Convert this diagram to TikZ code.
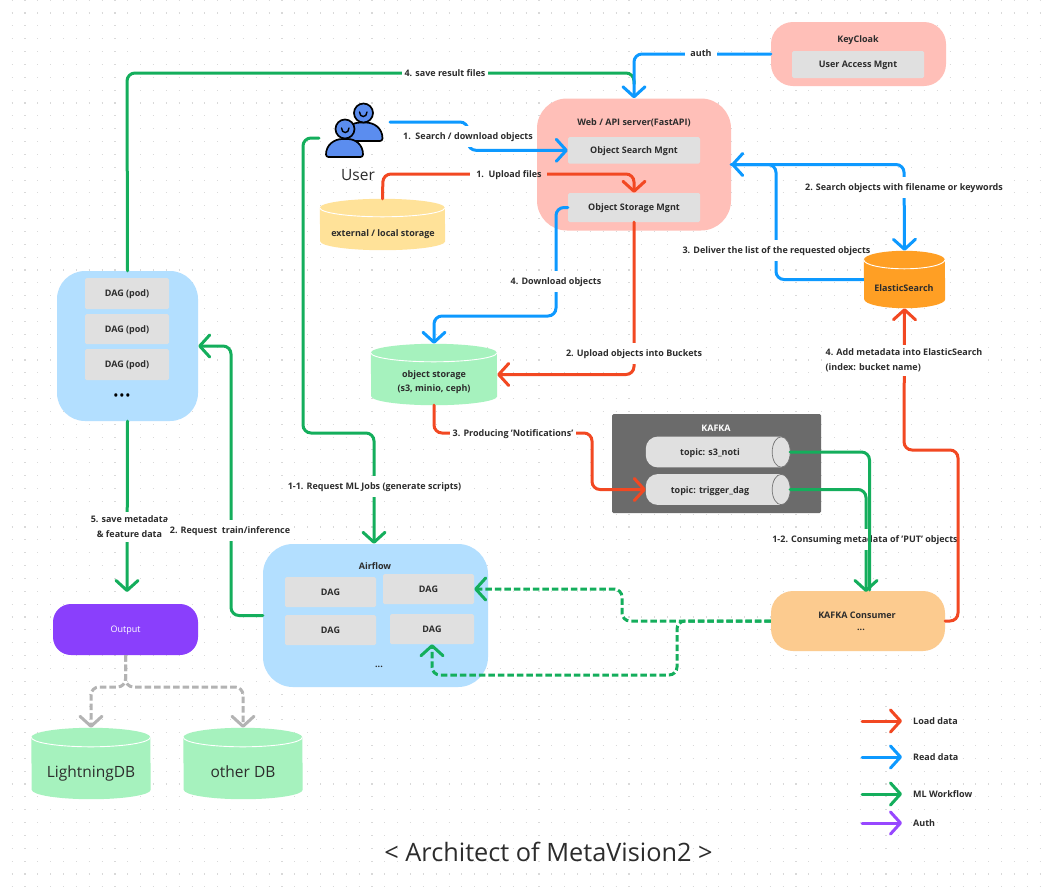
\documentclass[tikz,border=0pt]{standalone}
\usepackage{fontspec}
\setmainfont{Open Sans}
\usetikzlibrary{arrows.meta}
\definecolor{cred}{HTML}{F24822}
\definecolor{cblue}{HTML}{0D99FF}
\definecolor{cgreen}{HTML}{14AE5C}
\definecolor{cpurple}{HTML}{9747FF}
\definecolor{cgray}{HTML}{B3B3B3}
\definecolor{fpink}{HTML}{FFBFB8}
\definecolor{fsky}{HTML}{B3DFFF}
\definecolor{fmint}{HTML}{A6F2BE}
\definecolor{fyellow}{HTML}{FFE299}
\definecolor{forange}{HTML}{FCCB8F}
\definecolor{fes}{HTML}{FF9F24}
\definecolor{fbox}{HTML}{E0E0E0}
\definecolor{fdark}{HTML}{6B6B6B}
\definecolor{foutput}{HTML}{8A3FFC}
\definecolor{tdark}{HTML}{2C2C2C}
\definecolor{fperson}{HTML}{5B8DEF}
\definecolor{griddot}{HTML}{D9D9D9}
\tikzset{
  flow/.style={line width=3pt,rounded corners=8pt,line cap=round,draw=#1,-{Straight Barb[length=10pt,width=22pt,round]}},
  plainflow/.style={line width=3pt,rounded corners=8pt,line cap=round,draw=#1},
  dashflow/.style={line width=3pt,rounded corners=8pt,line cap=butt,dash pattern=on 6.5pt off 3pt,draw=#1,-{Straight Barb[length=10pt,width=22pt,round]}},
  txt/.style={font=\fontsize{9}{13}\selectfont\bfseries,text=tdark,inner sep=0pt,text height=6.4pt,text depth=0pt},
  lbl/.style={txt,fill=white,inner xsep=3pt,inner ysep=7.3pt},
  mlbl/.style={font=\fontsize{9}{15}\selectfont\bfseries,text=tdark,fill=white,inner xsep=3pt,inner ysep=4pt},
  inbox/.style={fill=fbox,rounded corners=1.5pt,inner sep=0pt,font=\fontsize{9}{11}\selectfont\bfseries,text=tdark,text height=6.4pt,text depth=0pt},
  panel/.style={inner sep=0pt,fill=#1},
  blank/.style={inner sep=0pt},
  big/.style={font=\fontsize{15.5}{19}\selectfont,text=tdark,inner sep=0pt,text height=11pt,text depth=0pt},
  headdraw/.style={draw=black,line width=1.7pt,fill=fperson},
  smile/.style={draw=black,line width=1.4pt,line cap=round},
}
% shape of a cylinder around an existing node: name, width, ry, colour
\newcommand{\cylbody}[4]{%
  \pgfmathsetmacro{\rxv}{#2/2}
  \fill[#4] ([yshift=-#3pt]#1.north west) arc[start angle=180,end angle=0,x radius=\rxv pt,y radius=#3pt]
     -- ([yshift=#3pt]#1.south east) arc[start angle=0,end angle=-180,x radius=\rxv pt,y radius=#3pt] -- cycle;
  \draw[white,line width=0.9pt] ([yshift=-#3pt]#1.north west) arc[start angle=180,end angle=360,x radius=\rxv pt,y radius=#3pt];
}
% name, cx, cy, width, height, ry, colour
\newcommand{\cyldb}[7]{%
  \node[blank,minimum width=#4pt,minimum height=#5pt] (#1) at (#2,#3) {};
  \cylbody{#1}{#4}{#6}{#7}
}
% name, cx, cy
\newcommand{\topicshape}[3]{%
  \node[blank,minimum width=144pt,minimum height=30.5pt] (#1) at (#2,#3) {};
  \fill[fbox,rounded corners=12pt] ([xshift=-9pt]#1.north east) -- (#1.north west) -- (#1.south west) [sharp corners] -- ([xshift=-9pt]#1.south east);
  \draw[fill=fbox,draw=black!55,line width=0.7pt] ([xshift=-9pt]#1.east) ellipse[x radius=9pt,y radius=15.2pt];
}
\begin{document}
\begin{tikzpicture}[x=1pt,y=-1pt]
\useasboundingbox (0,0) rectangle (1046,887);
\fill[white] (0,0) rectangle (1046,887);
% dot grid
\foreach \i in {0,...,69}{
  \pgfmathsetmacro{\yy}{0.15+12.85*\i}
  \draw[griddot,line width=1.1pt,dash pattern=on 1.1pt off 11.75pt] (11.6,\yy) -- (1046,\yy);
}
% ---- panels
\node[panel=fpink,rounded corners=22pt,minimum width=175pt,minimum height=64pt] (keycloak) at (858.5,54) {};
\node[txt] (keycloak-t) at (858,39) {KeyCloak};
\node[inbox,minimum width=132pt,minimum height=27pt] (uam) at (858,64.5) {User Access Mgnt};

\node[panel=fpink,rounded corners=30pt,minimum width=194pt,minimum height=132pt] (web) at (634,164.5) {};
\node[txt] (web-t) at (634,122) {Web / API server(FastAPI)};
\node[inbox,minimum width=132pt,minimum height=26.5pt] (search) at (634,150.3) {Object Search Mgnt};
\node[inbox,minimum width=132pt,minimum height=29pt] (storage) at (634,207.5) {Object Storage Mgnt};

\node[panel=fsky,rounded corners=28pt,minimum width=141pt,minimum height=150pt] (pods) at (127.5,346) {};
\node[inbox,minimum width=84pt,minimum height=31pt] (pod1) at (127,293.5) {DAG (pod)};
\node[inbox,minimum width=84pt,minimum height=30pt] (pod2) at (127,329) {DAG (pod)};
\node[inbox,minimum width=84pt,minimum height=31pt] (pod3) at (127,364.5) {DAG (pod)};
\node[inner sep=0pt,font=\fontsize{11}{13}\selectfont\bfseries,text=black] (pod-more) at (122,397) {•\,•\,•};

\node[panel=fsky,rounded corners=30pt,minimum width=225pt,minimum height=143pt] (airflow) at (375.5,615.5) {};
\node[txt] (airflow-t) at (375,566) {Airflow};
\node[inbox,minimum width=91pt,minimum height=30pt] (dagA) at (330.5,592) {DAG};
\node[inbox,minimum width=91pt,minimum height=30pt] (dagB) at (428.5,589) {DAG};
\node[inbox,minimum width=91pt,minimum height=30pt] (dagC) at (330.5,630) {DAG};
\node[inbox,minimum width=84pt,minimum height=30pt] (dagD) at (432,629) {DAG};
\node[inner sep=0pt,font=\fontsize{9}{11}\selectfont\bfseries,text=tdark] (airflow-more) at (379,667) {...};

\node[panel=foutput,rounded corners=18pt,minimum width=145pt,minimum height=51pt,text=white,font=\fontsize{9}{11}\selectfont,text height=6.4pt,text depth=0pt] (output) at (125.5,629.5) {Output};

\node[panel=forange,rounded corners=22pt,minimum width=174pt,minimum height=60pt] (consumer) at (858,621) {};
\node[txt] (consumer-t) at (857,615) {KAFKA Consumer};
\node[inner sep=0pt,font=\fontsize{9}{11}\selectfont\bfseries,text=tdark] (consumer-more) at (861,630) {...};

\node[panel=fdark,rounded corners=1.5pt,minimum width=209pt,minimum height=99pt] (kafka) at (716.5,463.5) {};
\node[txt,text=white] (kafka-t) at (716,428) {KAFKA};
\topicshape{topicA}{718}{452}
\topicshape{topicB}{718}{489.5}
\node[txt] (topicA-t) at (710,452) {topic: s3\_noti};
\node[txt] (topicB-t) at (710,490) {topic: trigger\_dag};

% ---- cylinders
\cyldb{ext}{382.5}{224.5}{125}{51}{9}{fyellow}
\node[txt] (ext-t) at (383,233) {external / local storage};
\cyldb{objst}{434}{374.5}{126}{61}{9}{fmint}
\node[inner sep=0pt,align=center,text=tdark,font=\fontsize{9}{14}\selectfont\bfseries] (objst-t) at (434,382.5) {object storage\\(s3, minio, ceph)};
\node[blank,minimum width=81pt,minimum height=57pt] (es) at (904.5,279.5) {};
\cyldb{ldb}{91}{763.5}{119}{71}{9.5}{fmint}
\node[big] (ldb-t) at (91,772) {LightningDB};
\cyldb{odb}{243}{763.5}{119}{71}{9.5}{fmint}
\node[big] (odb-t) at (243,772) {other DB};

% ---- user icon
\node[blank,minimum width=58pt,minimum height=54pt] (usericon) at (354.5,130) {};
\draw[headdraw,rounded corners=2.5pt] (344,141) .. controls (344,128) and (352,122.5) .. (363,122.5) .. controls (374,122.5) and (382.5,128) .. (382.5,141) -- cycle;
\draw[headdraw] (363.5,113) circle[radius=9.5pt];
\draw[smile] (359.5,112) .. controls (359.5,118) and (367,118) .. (367,112);
\draw[headdraw,rounded corners=2.5pt] (326,157) .. controls (326,145) and (334,139) .. (345,139) .. controls (356,139) and (363,145) .. (363,157) -- cycle;
\draw[headdraw] (345,129) circle[radius=9.5pt];
\draw[smile] (341.5,128) .. controls (341.5,134) and (349,134) .. (349,128);
\node[big] (user-t) at (358,175) {User};
\coordinate (user-out) at (390,122);
\coordinate (user-ml) at (319,138);

% ---- connectors
\draw[plainflow=cgreen] (pods.north) -- (127,73) -- (634,73) -- (634,84);
\node[lbl] (l-save) at (445,73) {4. save result files};
\draw[flow=cblue] (keycloak.west) -- (634,54) -- (web.north);
\node[lbl,inner xsep=5pt] (l-auth) at (701,53) {auth};

\draw[flow=cblue] (user-out) -- (468,122) -- (468,150.3) -- (search.west);
\node[lbl] (l-search) at (468,136) {1.\ \ Search / download objects};

\draw[flow=cred] (ext.north) -- (383,174) -- (634,174) -- (storage.north);
\fill[white] (470,165) rectangle (537,183);
\fill[fpink] (537,165) rectangle (547,183);
\node[txt] (l-upload) at (509,174) {1.\ \ Upload files};

\draw[flow=cblue] (storage.west) -- (556,207.5) -- (556,316) -- (434,316) -- (objst.north);
\node[lbl] (l-down) at (556,281) {4. Download objects};

\draw[flow=cred] (storage.south) -- (634,374.5) -- (objst.east);
\node[lbl] (l-upb) at (634,353) {2. Upload objects into Buckets};

\draw[flow=cblue] (web.east) -- (904,164.5) -- (es.north);
\node[lbl] (l-es2) at (904,187.5) {2. Search objects with filename or keywords};
\draw[flow=cblue] (es.west) -- (776,279.5) -- (776,164.5) -- (web.east);
\node[lbl] (l-es3) at (776.5,250) {3. Deliver the list of the requested objects};
\cylbody{es}{81}{9}{fes}
\node[txt] (es-t) at (904,288) {ElasticSearch};

\draw[flow=cred] (objst.south) -- (434,433) -- (592,433) -- (592,489.5) -- (topicB.west);
\node[lbl] (l-prod) at (513,433) {3. Producing 'Notifications'};

\draw[flow=cgreen] (user-ml) -- (303,138) -- (303,433) -- (374,433) -- (374,0 |- airflow.north);
\node[lbl] (l-ml) at (374.5,486) {1-1. Request ML Jobs (generate scripts)};

\draw[flow=cgreen] (pods.south) -- (127,592);
\node[mlbl,align=center] (l-meta) at (129.5,527) {5. save metadata\\\& feature data};

\draw[flow=cgreen] (airflow.west) -- (231,615.5) -- (231,346) -- (pods.east);
\node[lbl] (l-train) at (230,530) {2. Request\ \ train/inference};

\draw[flow=cgreen] (topicB.east) -- (866,489.5) -- (866,592);
\node[lbl] (l-cons) at (865,539) {1-2. Consuming metadata of 'PUT' objects};
\draw[plainflow=cgreen] (topicA.east) -- (869.5,452) -- (869.5,590);

\draw[flow=cred] (consumer.east) -- (958,621) -- (958,450) -- (904,450) -- (es.south);
\node[mlbl,align=left] (l-add) at (904,360.5) {4. Add metadata into ElasticSearch\\(index: bucket name)};

\draw[dashflow=cgreen] (consumer.west) -- (622,621) -- (622,589) -- (dagB.east);
\draw[dashflow=cgreen] (consumer.west) -- (677,621) -- (677,675) -- (432,675) -- (dagD.south);

\draw[dashflow=cgray] (output.south) -- (125.5,687) -- (91,687) -- (ldb.north);
\draw[dashflow=cgray] (output.south) -- (125.5,687) -- (243,687) -- (odb.north);

% ---- legend
\foreach \nm/\yy/\lgc/\lgt in {load/721/cred/Load data,read/757/cblue/Read data,ml/794/cgreen/ML Workflow,auth/823/cpurple/Auth}{
  \coordinate (lg-\nm-a) at (862,\yy);
  \coordinate (lg-\nm-b) at (902,\yy);
  \draw[flow=\lgc] (lg-\nm-a) -- (lg-\nm-b);
  \node[txt,anchor=west] (lg-\nm-t) at (913,\yy) {\lgt};
}
% ---- title
\node[inner sep=0pt,text=tdark,font=\fontsize{25.3}{28}\selectfont,text height=18pt,text depth=0pt] (title) at (548.5,852) {< Architect of MetaVision2 >};
\end{tikzpicture}
\end{document}
